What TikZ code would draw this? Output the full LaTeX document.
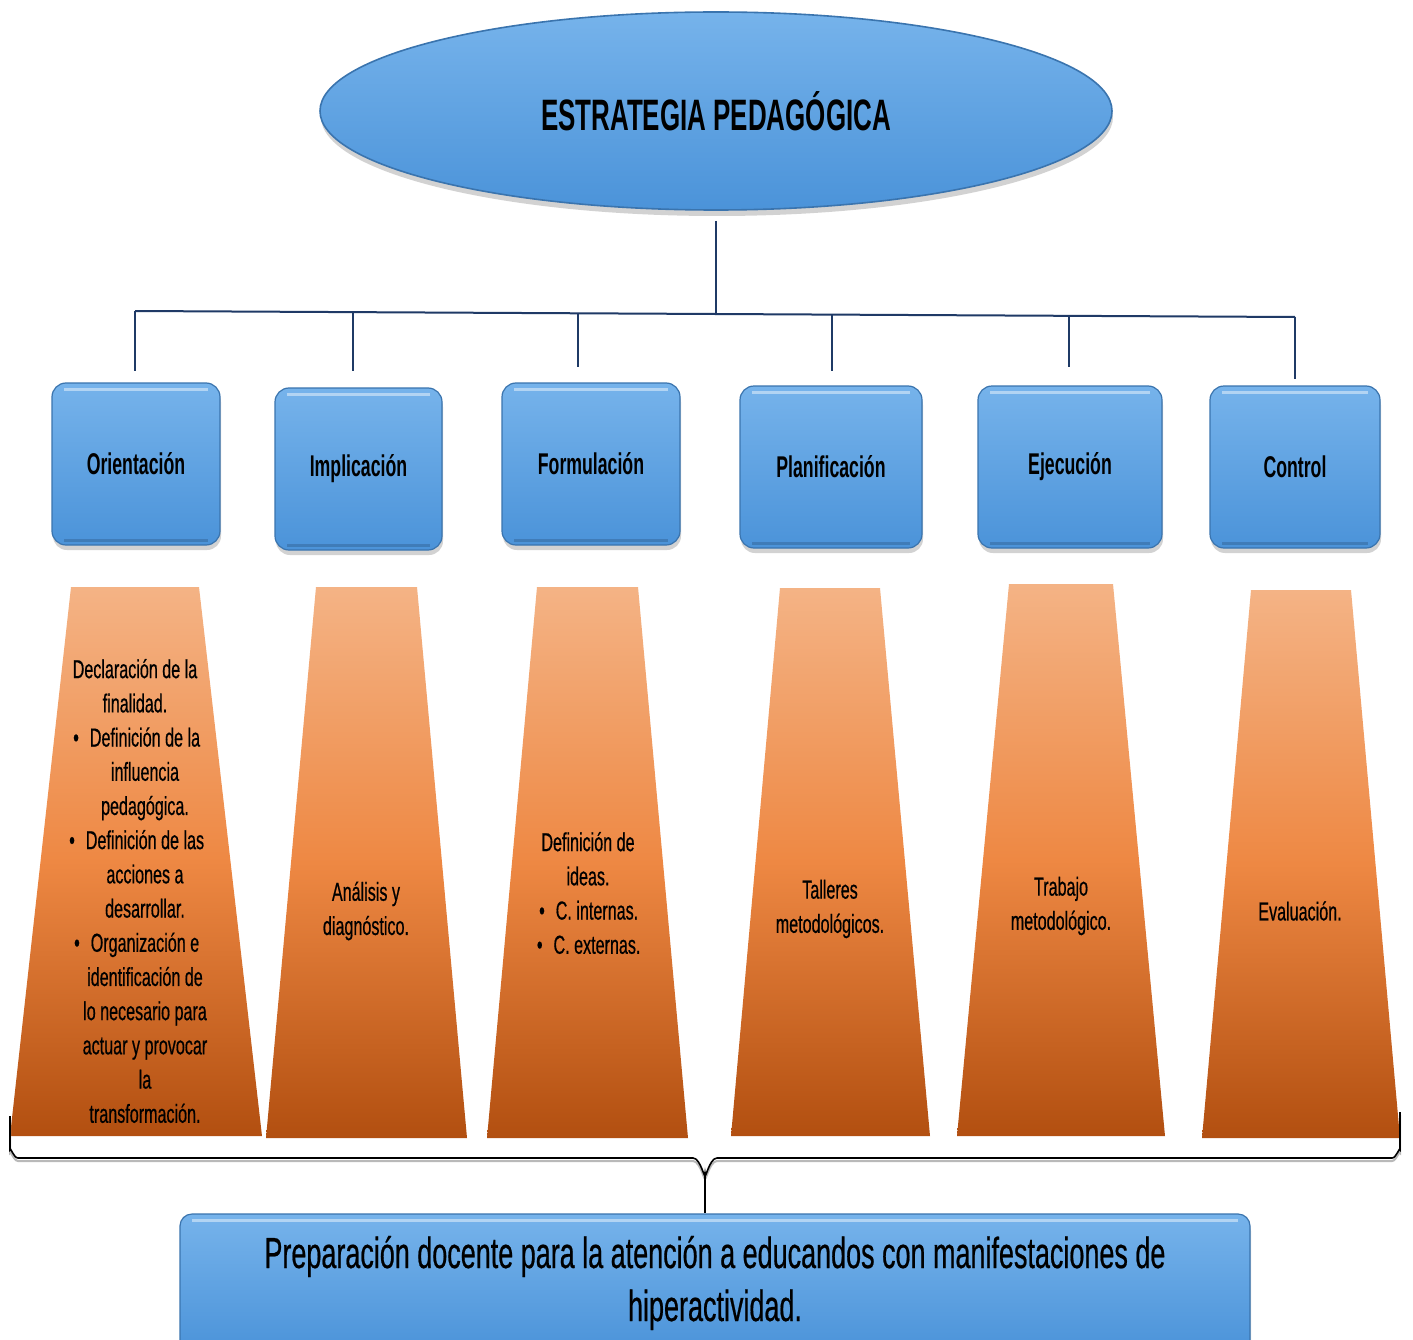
\documentclass[tikz,border=0pt]{standalone}
\usepackage{fontspec}
\setmainfont{Liberation Sans}
\newfontfamily\nar[FakeStretch=0.62,FakeBold=0.5]{Liberation Sans}
\newfontfamily\narb[FakeStretch=0.59]{Liberation Sans}
\usetikzlibrary{shadows,shapes.geometric}
\definecolor{bluetop}{HTML}{76B3EB}
\definecolor{bluebot}{HTML}{4B93D9}
\definecolor{blueedge}{HTML}{3A74AE}
\definecolor{navy}{HTML}{1F3A66}
\definecolor{or1}{HTML}{F4B385}
\definecolor{or2}{HTML}{EE8843}
\definecolor{or3}{HTML}{B24F10}
\tikzset{
  bevel/.style={path picture={
    \draw[white, opacity=0.45, line width=3pt]
      ([xshift=12pt,yshift=-6pt]path picture bounding box.north west) --
      ([xshift=-12pt,yshift=-6pt]path picture bounding box.north east);
    \draw[blueedge!70!black, opacity=0.35, line width=3pt]
      ([xshift=12pt,yshift=5pt]path picture bounding box.south west) --
      ([xshift=-12pt,yshift=5pt]path picture bounding box.south east);}},
  bluebox/.style={rectangle, rounded corners=14pt, top color=bluetop, bottom color=bluebot,
    draw=blueedge, line width=1.2pt, inner sep=0pt, bevel,
    drop shadow={shadow xshift=1pt, shadow yshift=-5pt, opacity=0.35},
    font=\narb\bfseries\fontsize{30}{34}\selectfont, text=black},
  topell/.style={ellipse, minimum width=792pt, minimum height=198pt, inner sep=0pt,
    top color=bluetop, bottom color=bluebot, draw=blueedge, line width=1.6pt,
    drop shadow={shadow xshift=1pt, shadow yshift=-6pt, opacity=0.35},
    font=\narb\bfseries\fontsize{44}{50}\selectfont, text=black},
  conn/.style={draw=navy, line width=2pt},
  trapfill/.style={top color=or1, bottom color=or3, middle color=or2},
  traptext/.style={font=\nar\fontsize{26}{34.2}\selectfont, align=center, text=black, inner sep=0pt},
  bracel/.style={draw=black, line width=1.6pt},
  bracesh/.style={draw=gray!55, line width=2pt}
}
\newcommand{\bul}{\llap{\textbullet\hspace{11pt}}}
\begin{document}
\begin{tikzpicture}[x=1pt,y=-1pt]
\clip (0,0) rectangle (1413,1340);
\fill[white] (0,0) rectangle (1413,1340);

% top ellipse
\node[topell] (top) at (716,111) {ESTRATEGIA PEDAGÓGICA};

% stage boxes
\node[bluebox, minimum width=168pt, minimum height=162pt] (b1) at (136,464) {Orientación};
\node[bluebox, minimum width=167pt, minimum height=162pt] (b2) at (358.5,469) {Implicación};
\node[bluebox, minimum width=178pt, minimum height=162pt] (b3) at (591,464) {Formulación};
\node[bluebox, minimum width=182pt, minimum height=162pt] (b4) at (831,467) {Planificación};
\node[bluebox, minimum width=184pt, minimum height=162pt] (b5) at (1070,467) {Ejecución};
\node[bluebox, minimum width=170pt, minimum height=162pt] (b6) at (1295,467) {Control};

% bus
\coordinate (busc) at (716,313);
\coordinate (d1) at (135,311);
\coordinate (d2) at (353,312);
\coordinate (d3) at (578,313);
\coordinate (d4) at (832,315);
\coordinate (d5) at (1069,316);
\coordinate (d6) at (1295,317);
\draw[conn, shorten <=10pt] (top.south) -- (busc);
\draw[conn] (d1) -- (d6);
\draw[conn, shorten >=11pt] (d1) -- (d1 |- b1.north);
\draw[conn, shorten >=16pt] (d2) -- (d2 |- b2.north);
\draw[conn, shorten >=15pt] (d3) -- (d3 |- b3.north);
\draw[conn, shorten >=14pt] (d4) -- (d4 |- b4.north);
\draw[conn, shorten >=18pt] (d5) -- (d5 |- b5.north);
\draw[conn, shorten >=6pt] (d6) -- (d6 |- b6.north);

% trapezoids
\shade[trapfill] (71,587) -- (199,587) -- (262,1136) -- (10,1136) -- cycle;
\shade[trapfill] (316,587) -- (417,587) -- (467,1138) -- (266,1138) -- cycle;
\shade[trapfill] (537,587) -- (638,587) -- (688,1138) -- (487,1138) -- cycle;
\shade[trapfill] (780,588) -- (880,588) -- (930,1136) -- (731,1136) -- cycle;
\shade[trapfill] (1009,584) -- (1113,584) -- (1165,1136) -- (957,1136) -- cycle;
\shade[trapfill] (1251,590) -- (1351,590) -- (1400,1138) -- (1202,1138) -- cycle;

\node[traptext] (t1) at (145,891) {%
\hspace*{-20pt}Declaración de la\\
\hspace*{-20pt}finalidad.\\
\bul Definición de la\\
influencia\\
pedagógica.\\
\bul Definición de las\\
acciones a\\
desarrollar.\\
\bul Organización e\\
identificación de\\
lo necesario para\\
actuar y provocar\\
la\\
transformación.};
\node[traptext] (t2) at (366,911) {Análisis y\\diagnóstico.};
\node[traptext] (t3) at (588,893) {Definición de\\ideas.\\
\hspace*{18pt}\bul C. internas.\\
\hspace*{18pt}\bul C. externas.};
\node[traptext] (t4) at (830,909) {Talleres\\metodológicos.};
\node[traptext] (t5) at (1061,906) {Trabajo\\metodológico.};
\node[traptext] (t6) at (1300,911) {Evaluación.};

% bottom box
\node[bluebox, rounded corners=12pt, minimum width=1070pt, minimum height=138pt,
  font=\nar\fontsize{43.5}{53}\selectfont, align=center] (bot) at (715,1283)
  {Preparación docente para la atención a educandos con manifestaciones de\\hiperactividad.};

% brace
\coordinate (brtip) at (705,1174);
\begin{scope}[yshift=-3pt]
\draw[bracesh] (10,1116) -- (10,1150) to[out=90,in=180] (18,1158) -- (693,1158)
  to[out=0,in=-90] (705,1174) to[out=-90,in=180] (717,1158) -- (1392,1158)
  to[out=0,in=90] (1400,1150) -- (1400,1112);
\end{scope}
\draw[bracel] (10,1116) -- (10,1150) to[out=90,in=180] (18,1158) -- (693,1158)
  to[out=0,in=-90] (705,1174) to[out=-90,in=180] (717,1158) -- (1392,1158)
  to[out=0,in=90] (1400,1150) -- (1400,1112);
\draw[bracel, line width=1.3pt] (brtip) -- (brtip |- bot.north);
\end{tikzpicture}
\end{document}
